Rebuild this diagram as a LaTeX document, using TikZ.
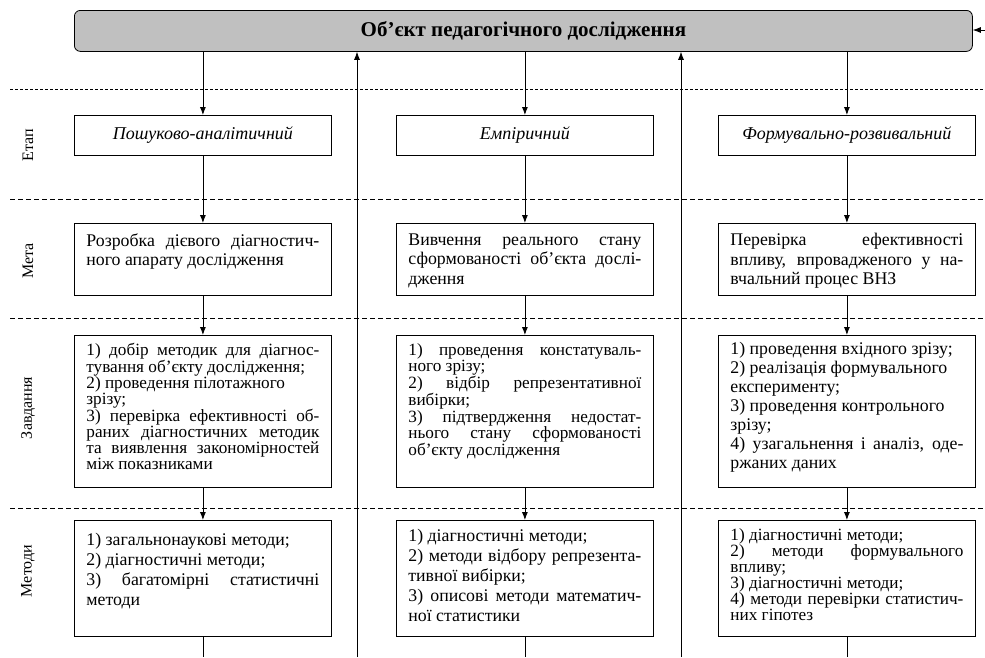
\documentclass[tikz,border=0pt]{standalone}
\usepackage{fontspec}
\setmainfont{Liberation Serif}
\usetikzlibrary{arrows.meta,positioning}
\definecolor{objgray}{RGB}{192,192,192}
\newcommand{\cell}[5]{\parbox[t][#1][t]{233pt}{\fontsize{#2}{#3}\selectfont\vspace*{#4}#5}}

\begin{document}
\begin{tikzpicture}[x=1pt, y=-1pt, >={Latex[length=8pt,width=6pt]}, line width=0.8pt,
    cellbox/.style={draw, anchor=north west, inner xsep=12pt, inner ysep=0pt},
    stagebox/.style={draw, anchor=north west, minimum width=257pt, minimum height=40pt, font=\fontsize{18}{21}\selectfont\itshape},
    rowlabel/.style={rotate=90, font=\fontsize{16}{19}\selectfont},
    sep/.style={line width=0.6pt, dash pattern=on 5pt off 3pt}]
    \useasboundingbox (0,0) rectangle (985,657);

    \node[draw, fill=objgray, rounded corners=6pt, anchor=north west, minimum width=898pt, minimum height=41pt,
          font=\fontsize{21}{24}\selectfont\bfseries] (obj) at (74,10) {Об’єкт педагогічного дослідження};

    \draw[sep, dash pattern=on 3pt off 2pt] (10,89) -- (985,89);
    \draw[sep] (10,199) -- (985,199);
    \draw[sep] (10,318) -- (985,318);
    \draw[sep] (10,508) -- (985,508);

    \node[rowlabel] (lab1) at (28,145) {Етап};
    \node[rowlabel] (lab2) at (28,261) {Мета};
    \node[rowlabel] (lab3) at (28,408) {Завдання};
    \node[rowlabel] (lab4) at (28,571) {Методи};

    \node[stagebox] (e1) at (74,115) {Пошуково-аналітичний};
    \node[stagebox] (e2) at (396,115) {Емпіричний};
    \node[stagebox] (e3) at (718,115) {Формувально-розвивальний};

    \node[cellbox] (m1) at (74,223) {\cell{72pt}{17.8}{19.5pt}{10pt}{Розробка дієвого діагностич-\linebreak ного апарату дослідження}};
    \node[cellbox] (m2) at (396,223) {\cell{72pt}{17.8}{19.5pt}{10pt}{Вивчення реального стану\linebreak сформованості об’єкта дослі-\linebreak дження}};
    \node[cellbox] (m3) at (718,223) {\cell{72pt}{17.8}{19.5pt}{10pt}{Перевірка ефективності\linebreak впливу, впровадженого у на-\linebreak вчальний процес ВНЗ}};

    \node[cellbox] (z1) at (74,335) {\cell{152pt}{17.2}{15.9pt}{8pt}{1) добір методик для діагнос-\linebreak тування об’єкту дослідження;\par
        2) проведення пілотажного\newline зрізу;\par
        3) перевірка ефективності об-\linebreak раних діагностичних методик\linebreak та виявлення закономірностей\linebreak між показниками}};
    \node[cellbox] (z2) at (396,335) {\cell{152pt}{17.2}{14.7pt}{8pt}{1) проведення констатуваль-\linebreak ного зрізу;\par
        2) відбір репрезентативної\linebreak вибірки;\par
        3) підтвердження недостат-\linebreak нього стану сформованості\linebreak об’єкту дослідження}};
    \node[cellbox] (z3) at (718,335) {\cell{152pt}{17.8}{19pt}{7pt}{1) проведення вхідного зрізу;\par
        2) реалізація формувального\newline експерименту;\par
        3) проведення контрольного\newline зрізу;\par
        4) узагальнення і аналіз, оде-\linebreak ржаних даних}};

    \node[cellbox] (t1) at (74,520) {\cell{116pt}{17.8}{20pt}{13pt}{1) загальнонаукові методи;\par
        2) діагностичні методи;\par
        3) багатомірні статистичні\linebreak методи}};
    \node[cellbox] (t2) at (396,520) {\cell{116pt}{17.8}{20pt}{9pt}{1) діагностичні методи;\par
        2) методи відбору репрезента-\linebreak тивної вибірки;\par
        3) описові методи математич-\linebreak ної статистики}};
    \node[cellbox] (t3) at (718,520) {\cell{116pt}{17.2}{16pt}{8pt}{1) діагностичні методи;\par
        2) методи формувального\linebreak впливу;\par
        3) діагностичні методи;\par
        4) методи перевірки статистич-\linebreak них гіпотез}};

    \coordinate (in) at (985,30);
    \coordinate (b1) at (357,657);
    \coordinate (b2) at (681,657);

    \draw[->] (in) -- (in -| obj.east);
    \draw[->] (b1) -- (b1 |- obj.south);
    \draw[->] (b2) -- (b2 |- obj.south);

    \foreach \c in {1,2,3} {
      \draw[->] (e\c |- obj.south) -- (e\c.north);
      \draw[->] (e\c) -- (m\c);
      \draw[->] (m\c) -- (z\c);
      \draw[->] (z\c) -- (t\c);
      \draw (t\c.south) -- (t\c.south |- b1);
    }
\end{tikzpicture}
\end{document}
